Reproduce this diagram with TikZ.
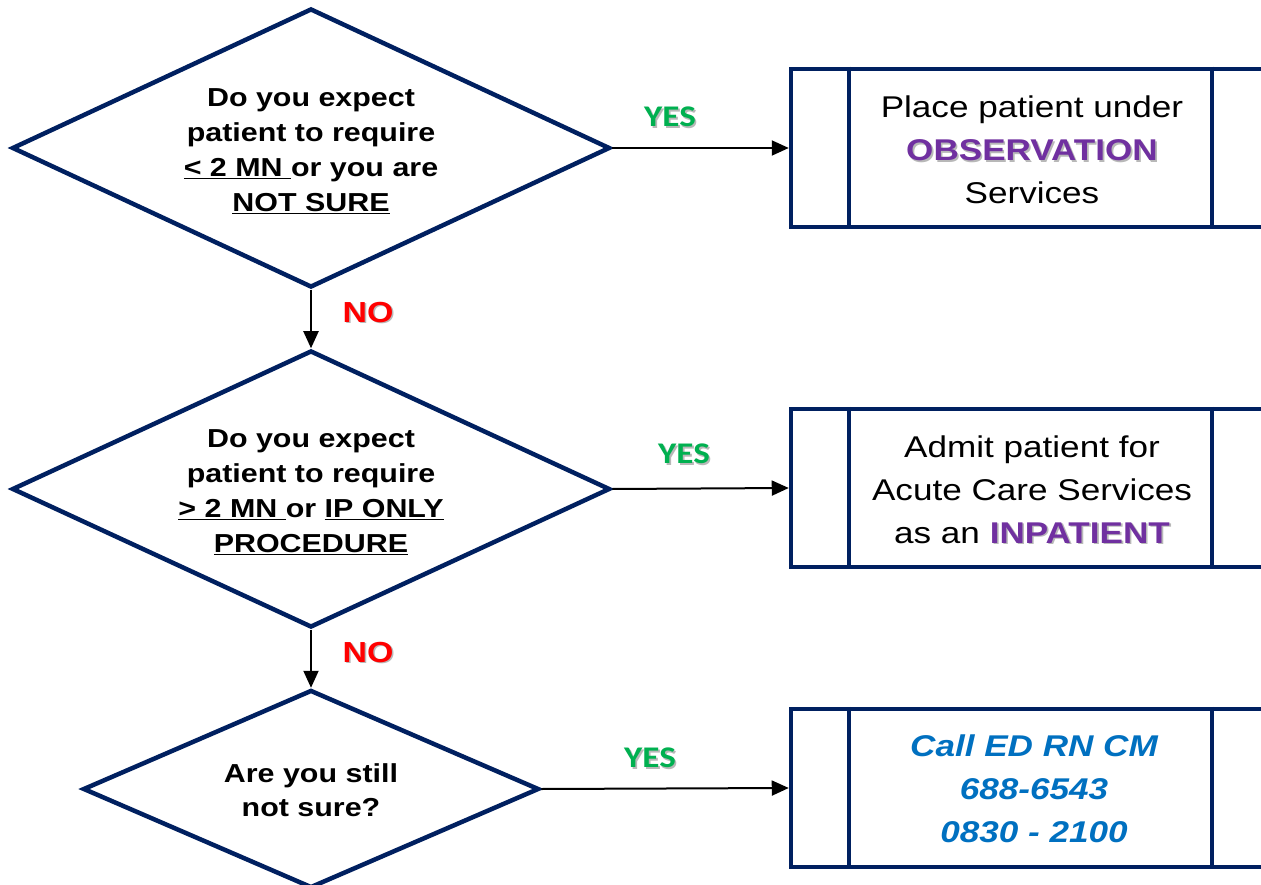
\documentclass[tikz,border=0pt]{standalone}
\usepackage{fontspec}
\usetikzlibrary{shapes.geometric,arrows.meta}
\newfontfamily\arl{Liberation Sans}[FakeStretch=1.17]
\newfontfamily\cbr{Carlito}[FakeStretch=1.17]
\definecolor{navy}{HTML}{002060}
\definecolor{purp}{HTML}{7030A0}
\definecolor{yesgreen}{HTML}{00B050}
\definecolor{nored}{HTML}{FF0000}
\definecolor{callblue}{HTML}{0070C0}
\newcommand\shtxt[2]{\makebox[0pt][l]{\hspace{1.6pt}\raisebox{-1.6pt}{\textcolor{black!28}{#2}}}\textcolor{#1}{#2}}
\tikzset{
  dia/.style={shape=diamond, draw=navy, line width=4.5pt, fill=white, inner sep=0pt},
  procbox/.style={shape=rectangle, draw=navy, line width=4.5pt, fill=white, inner sep=0pt, minimum width=509pt, minimum height=158pt},
  divider/.style={draw=navy, line width=3.5pt},
  qtext/.style={align=center, font=\arl\bfseries\fontsize{26}{35}\selectfont, text=black},
  btext/.style={align=center, font=\arl\fontsize{30}{43}\selectfont, text=black},
  arr/.style={draw=black, line width=2pt, -{Triangle[length=17pt,width=15pt]}},
  yeslbl/.style={font=\cbr\bfseries\fontsize{30}{32}\selectfont},
  nolbl/.style={font=\arl\bfseries\fontsize{29}{32}\selectfont},
}
\begin{document}
\begin{tikzpicture}[x=1pt,y=-1pt]
\clip (0,0) rectangle (1261,885);
\fill[white] (0,0) rectangle (1261,885);
% diamonds
\node[dia, minimum width=598pt, minimum height=279pt] (d1) at (311,148) {};
\node[dia, minimum width=598pt, minimum height=277pt] (d2) at (311,489) {};
\node[dia, minimum width=456pt, minimum height=198pt] (d3) at (311,789) {};
\node[qtext] (q1) at (311,151) {Do you expect\\patient to require\\\underline{< 2 MN\ }or you are\\\underline{NOT SURE}};
\node[qtext] (q2) at (311,492) {Do you expect\\patient to require\\\underline{> 2 MN\ }or \underline{IP ONLY}\\\underline{PROCEDURE}};
\node[qtext, font=\arl\bfseries\fontsize{26}{34}\selectfont] (q3) at (311,790) {Are you still\\not sure?};
% boxes
\node[procbox] (b1) at (1045.5,148) {};
\node[procbox] (b2) at (1045.5,488) {};
\node[procbox] (b3) at (1045.5,788) {};
\foreach \b in {b1,b2,b3}{
  \draw[divider] ([xshift=60pt]\b.north west) -- ([xshift=60pt]\b.south west);
  \draw[divider] ([xshift=423pt]\b.north west) -- ([xshift=423pt]\b.south west);
}
\node[btext] (t1) at (1032,150) {Place patient under\\{\bfseries\shtxt{purp}{OBSERVATION}}\\Services};
\node[btext] (t2) at (1032,490) {Admit patient for\\Acute Care Services\\as an {\bfseries\shtxt{purp}{INPATIENT}}};
\node[btext, font=\arl\bfseries\itshape\fontsize{30}{43}\selectfont, text=callblue] (t3) at (1034,789) {Call ED RN CM\\688-6543\\0830 - 2100};
% connectors
\draw[arr] (d1.east) -- (b1.west);
\draw[arr] (d2.east) -- (b2.west);
\draw[arr] (d3.east) -- (b3.west);
\draw[arr] (d1.south) -- (d2.north);
\draw[arr] (d2.south) -- (d3.north);
% labels
\node[yeslbl] (y1) at (670,118) {\shtxt{yesgreen}{YES}};
\node[yeslbl] (y2) at (684,455) {\shtxt{yesgreen}{YES}};
\node[yeslbl] (y3) at (650,759) {\shtxt{yesgreen}{YES}};
\node[nolbl] (n1) at (368,313) {\shtxt{nored}{NO}};
\node[nolbl] (n2) at (368,653) {\shtxt{nored}{NO}};
\end{tikzpicture}
\end{document}
